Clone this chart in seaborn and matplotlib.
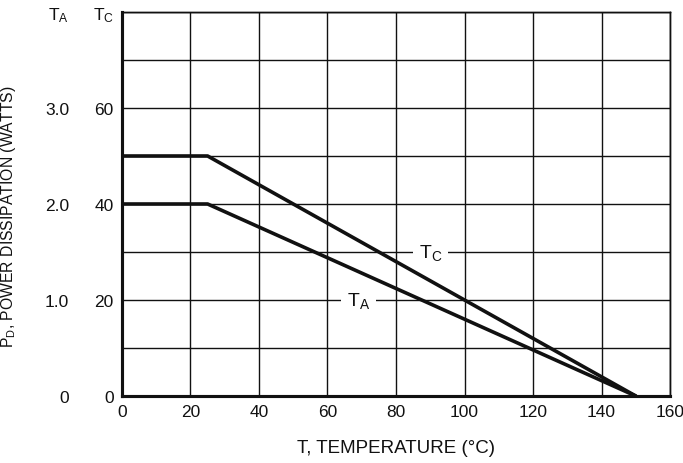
import numpy as np
import pandas as pd
import matplotlib
matplotlib.use("Agg")
import matplotlib.pyplot as plt
import seaborn as sns

# Derating curve data
temps = [0, 25, 150]
pd_case = [50, 50, 0]       # T_C curve, watts
pd_ambient = [2.0, 2.0, 0]  # T_A curve, watts

x_ticks = [0, 20, 40, 60, 80, 100, 120, 140, 160]
tc_ticks = [0, 20, 40, 60, 80]
tc_labels = ["0", "20", "40", "60", r"$\mathregular{T_C}$"]
ta_ticks = [0, 1, 2, 3, 4]
ta_labels = ["0", "1.0", "2.0", "3.0", r"$\mathregular{T_A}$"]

sns.set_theme(style="white")
plt.rcParams["font.family"] = ["Liberation Sans Narrow", "Liberation Sans", "DejaVu Sans"]
plt.rcParams["mathtext.fontset"] = "custom"

fig = plt.figure(figsize=(6.83, 4.64), dpi=100)
ax = fig.add_axes([0.1786, 0.1444, 0.8024, 0.8276])

df = pd.DataFrame({"T": temps, "Tc": pd_case})
sns.lineplot(data=df, x="T", y="Tc", ax=ax, color="#111111", lw=2.6)

ax.set_xlim(0, 160)
ax.set_ylim(0, 80)
ax.set_xticks(x_ticks)
ax.set_yticks(tc_ticks)
ax.set_yticklabels(tc_labels)
ax.set_yticks([10, 30, 50, 70], minor=True)
ax.grid(True, which="both", color="#111111", lw=1.0)
ax.tick_params(which="both", length=0, labelsize=12.5, colors="#111111")
ax.tick_params(axis="y", pad=6)
ax.tick_params(axis="x", pad=6)

# second scale for the ambient curve, labels placed on the left too
ax2 = ax.twinx()
df2 = pd.DataFrame({"T": temps, "Ta": pd_ambient})
sns.lineplot(data=df2, x="T", y="Ta", ax=ax2, color="#111111", lw=2.6)
ax2.set_ylim(0, 4)
ax2.set_yticks(ta_ticks)
ax2.set_yticklabels(ta_labels)
ax2.yaxis.tick_left()
ax2.tick_params(length=0, labelsize=12.5, colors="#111111", pad=38)
ax2.set_ylabel("")
ax2.grid(False)

for a in (ax, ax2):
    for side in ["top", "right"]:
        a.spines[side].set_linewidth(1.0)
        a.spines[side].set_color("#111111")
    for side in ["left", "bottom"]:
        a.spines[side].set_linewidth(2.2)
        a.spines[side].set_color("#111111")

# curve labels sitting on the grid lines
ax.text(90, 30, r"$\mathregular{T_C}$", ha="center", va="center", fontsize=14,
        color="#111111", bbox=dict(facecolor="white", edgecolor="none", pad=4))
ax.text(69, 20, r"$\mathregular{T_A}$", ha="center", va="center", fontsize=14,
        color="#111111", bbox=dict(facecolor="white", edgecolor="none", pad=4))

ax.set_xlabel("T, TEMPERATURE (°C)", fontsize=13.5, color="#111111", labelpad=14)
ax.set_ylabel(r"$\mathregular{P_D}$, POWER DISSIPATION (WATTS)", fontsize=11.3, color="#111111")
ax.yaxis.set_label_coords(-0.19, 0.47)

fig.savefig("out.png", dpi=100)
